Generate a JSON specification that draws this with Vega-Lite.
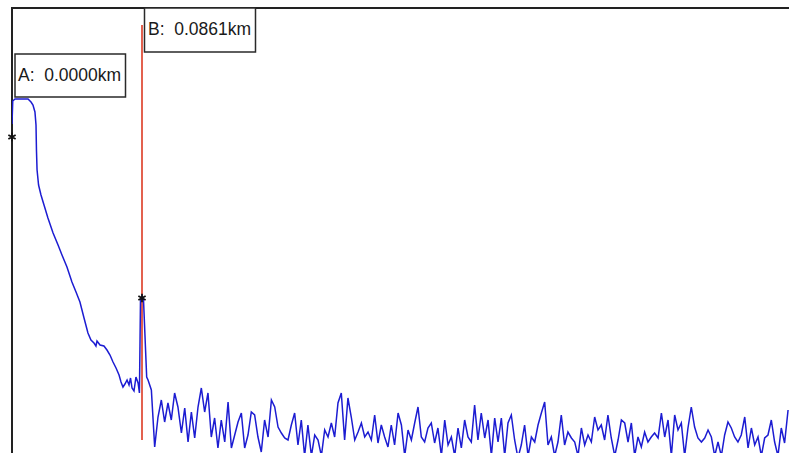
{
  "$schema": "https://vega.github.io/schema/vega-lite/v6.json",
  "autosize": {"type": "none"},
  "padding": {"left": 12, "top": 8, "right": 0, "bottom": 0},
  "width": 778,
  "height": 446,
  "background": "white",
  "config": {
    "view": {"stroke": "#222222", "strokeWidth": 2},
    "axis": {"disable": true}
  },
  "datasets": {
    "cursors": [
      {"cursor": "A", "km": 0, "db": 31.6, "label": "A: \u00a00.0000km"},
      {"cursor": "B", "km": 0.0861, "db": 15.5, "label": "B: \u00a00.0861km"}
    ],
    "trace": [
      {"km": 0, "db": 32.9}, {"km": 0.0005, "db": 35.2}, {"km": 0.002, "db": 35.4}, {"km": 0.0106, "db": 35.4},
      {"km": 0.0126, "db": 35.1}, {"km": 0.0139, "db": 34.8}, {"km": 0.0152, "db": 34.1}, {"km": 0.0159, "db": 32.8},
      {"km": 0.0162, "db": 30.3}, {"km": 0.0166, "db": 28.3}, {"km": 0.0176, "db": 26.8}, {"km": 0.0192, "db": 25.8},
      {"km": 0.0212, "db": 24.8}, {"km": 0.0238, "db": 23.5}, {"km": 0.0272, "db": 22.0}, {"km": 0.0305, "db": 20.8},
      {"km": 0.0331, "db": 19.8}, {"km": 0.0364, "db": 18.6}, {"km": 0.0397, "db": 17.1}, {"km": 0.0424, "db": 16.1},
      {"km": 0.045, "db": 15.1}, {"km": 0.0477, "db": 13.5}, {"km": 0.0503, "db": 12.0}, {"km": 0.0523, "db": 11.3},
      {"km": 0.0543, "db": 11.0}, {"km": 0.0556, "db": 10.7}, {"km": 0.0563, "db": 11.2}, {"km": 0.0583, "db": 10.8},
      {"km": 0.0609, "db": 10.7}, {"km": 0.0629, "db": 10.3}, {"km": 0.0649, "db": 9.8}, {"km": 0.0669, "db": 9.1},
      {"km": 0.0689, "db": 8.5}, {"km": 0.0709, "db": 7.8}, {"km": 0.0722, "db": 7.1}, {"km": 0.0735, "db": 6.6},
      {"km": 0.0748, "db": 6.9}, {"km": 0.0762, "db": 7.3}, {"km": 0.0775, "db": 6.8}, {"km": 0.0785, "db": 7.5},
      {"km": 0.0795, "db": 6.5}, {"km": 0.0808, "db": 6.2}, {"km": 0.0821, "db": 7.6}, {"km": 0.0835, "db": 7.0},
      {"km": 0.0844, "db": 6.0}, {"km": 0.0851, "db": 15.3}, {"km": 0.0861, "db": 15.7}, {"km": 0.0871, "db": 15.3},
      {"km": 0.0892, "db": 7.6},
      {"km": 0.0901, "db": 7.3}, {"km": 0.0923, "db": 6.3}, {"km": 0.0945, "db": 0.6}, {"km": 0.0967, "db": 3.6},
      {"km": 0.0989, "db": 5.3}, {"km": 0.1011, "db": 3.1}, {"km": 0.1033, "db": 5.0}, {"km": 0.1055, "db": 3.3},
      {"km": 0.1077, "db": 6.0}, {"km": 0.1099, "db": 4.6}, {"km": 0.1122, "db": 2.0}, {"km": 0.1144, "db": 4.5},
      {"km": 0.1166, "db": 1.1}, {"km": 0.1188, "db": 4.1}, {"km": 0.121, "db": 1.5}, {"km": 0.1232, "db": 4.6},
      {"km": 0.1254, "db": 6.5}, {"km": 0.1276, "db": 4.1}, {"km": 0.1298, "db": 6.0}, {"km": 0.132, "db": 1.6},
      {"km": 0.1342, "db": 3.5}, {"km": 0.1364, "db": 0.5}, {"km": 0.1386, "db": 3.3}, {"km": 0.1409, "db": 1.1},
      {"km": 0.1431, "db": 5.1}, {"km": 0.1453, "db": 0.5}, {"km": 0.1475, "db": 1.8}, {"km": 0.1497, "db": 3.1},
      {"km": 0.1519, "db": 4.0}, {"km": 0.1541, "db": 0.5}, {"km": 0.1563, "db": 1.8}, {"km": 0.1585, "db": 4.1},
      {"km": 0.1607, "db": 3.8}, {"km": 0.1629, "db": 1.6}, {"km": 0.1651, "db": 0.1}, {"km": 0.1673, "db": 3.3},
      {"km": 0.1696, "db": 1.6}, {"km": 0.1718, "db": 5.3}, {"km": 0.174, "db": 4.6}, {"km": 0.1762, "db": 2.6},
      {"km": 0.1784, "db": 2.0}, {"km": 0.1806, "db": 1.5}, {"km": 0.1828, "db": 1.3}, {"km": 0.185, "db": 2.8},
      {"km": 0.1872, "db": 4.0}, {"km": 0.1894, "db": 0.8}, {"km": 0.1916, "db": 3.3}, {"km": 0.1938, "db": -0.3},
      {"km": 0.196, "db": 2.8}, {"km": 0.1983, "db": -0.3}, {"km": 0.2005, "db": 1.8}, {"km": 0.2027, "db": 1.3},
      {"km": 0.2049, "db": -0.3}, {"km": 0.2071, "db": 2.3}, {"km": 0.2093, "db": 1.6}, {"km": 0.2115, "db": 3.0},
      {"km": 0.2137, "db": 1.6}, {"km": 0.2159, "db": 5.0}, {"km": 0.2181, "db": 6.0}, {"km": 0.2203, "db": 1.3},
      {"km": 0.2225, "db": 5.5}, {"km": 0.2247, "db": 3.6}, {"km": 0.227, "db": 1.3}, {"km": 0.2292, "db": 2.1},
      {"km": 0.2314, "db": 3.0}, {"km": 0.2336, "db": 1.6}, {"km": 0.2358, "db": 2.1}, {"km": 0.238, "db": 1.3},
      {"km": 0.2402, "db": 3.8}, {"km": 0.2424, "db": 1.0}, {"km": 0.2446, "db": 2.8}, {"km": 0.2468, "db": 1.6},
      {"km": 0.249, "db": 0.6}, {"km": 0.2512, "db": 2.8}, {"km": 0.2534, "db": 0.8}, {"km": 0.2557, "db": 4.0},
      {"km": 0.2579, "db": 2.8}, {"km": 0.2601, "db": -0.3}, {"km": 0.2623, "db": 2.3}, {"km": 0.2645, "db": 1.3},
      {"km": 0.2667, "db": 3.0}, {"km": 0.2689, "db": 4.6}, {"km": 0.2711, "db": 1.6}, {"km": 0.2733, "db": 1.1},
      {"km": 0.2755, "db": 2.5}, {"km": 0.2777, "db": 3.0}, {"km": 0.2799, "db": 1.0}, {"km": 0.2821, "db": 2.5},
      {"km": 0.2844, "db": -0.3}, {"km": 0.2866, "db": 3.3}, {"km": 0.2888, "db": 0.8}, {"km": 0.291, "db": 1.6},
      {"km": 0.2932, "db": -0.3}, {"km": 0.2954, "db": 2.5}, {"km": 0.2976, "db": 0.5}, {"km": 0.2998, "db": 3.3},
      {"km": 0.302, "db": 1.6}, {"km": 0.3042, "db": 1.1}, {"km": 0.3064, "db": 4.8}, {"km": 0.3086, "db": 1.3},
      {"km": 0.3108, "db": 4.0}, {"km": 0.3131, "db": 1.5}, {"km": 0.3153, "db": 3.3}, {"km": 0.3175, "db": -0.3},
      {"km": 0.3197, "db": 3.5}, {"km": 0.3219, "db": 1.1}, {"km": 0.3241, "db": 3.5}, {"km": 0.3263, "db": -0.3},
      {"km": 0.3285, "db": 3.0}, {"km": 0.3307, "db": 3.8}, {"km": 0.3329, "db": 1.3}, {"km": 0.3351, "db": -0.5},
      {"km": 0.3373, "db": 0.8}, {"km": 0.3395, "db": 2.8}, {"km": 0.3418, "db": -0.3}, {"km": 0.344, "db": 1.6},
      {"km": 0.3462, "db": 1.1}, {"km": 0.3484, "db": 2.8}, {"km": 0.3506, "db": 4.0}, {"km": 0.3528, "db": 5.1},
      {"km": 0.355, "db": 0.8}, {"km": 0.3572, "db": 1.6}, {"km": 0.3594, "db": -0.3}, {"km": 0.3616, "db": 1.1},
      {"km": 0.3638, "db": 3.8}, {"km": 0.366, "db": 0.8}, {"km": 0.3682, "db": 2.1}, {"km": 0.3705, "db": 1.5},
      {"km": 0.3727, "db": 1.1}, {"km": 0.3749, "db": -0.3}, {"km": 0.3771, "db": 2.5}, {"km": 0.3793, "db": 0.8},
      {"km": 0.3815, "db": 1.8}, {"km": 0.3837, "db": 1.1}, {"km": 0.3859, "db": 3.6}, {"km": 0.3881, "db": 2.3},
      {"km": 0.3903, "db": 2.8}, {"km": 0.3925, "db": 1.3}, {"km": 0.3947, "db": 3.8}, {"km": 0.3969, "db": 1.5},
      {"km": 0.3992, "db": -0.3}, {"km": 0.4014, "db": 1.3}, {"km": 0.4036, "db": 3.3}, {"km": 0.4058, "db": 3.0},
      {"km": 0.408, "db": 1.1}, {"km": 0.4102, "db": 3.0}, {"km": 0.4124, "db": -0.3}, {"km": 0.4146, "db": 1.6},
      {"km": 0.4168, "db": 0.6}, {"km": 0.419, "db": 2.1}, {"km": 0.4212, "db": 1.1}, {"km": 0.4234, "db": 1.6},
      {"km": 0.4256, "db": 2.0}, {"km": 0.4279, "db": 1.5}, {"km": 0.4301, "db": 4.0}, {"km": 0.4323, "db": 1.6},
      {"km": 0.4345, "db": 3.3}, {"km": 0.4367, "db": -0.3}, {"km": 0.4389, "db": 3.8}, {"km": 0.4411, "db": 2.3},
      {"km": 0.4433, "db": 3.0}, {"km": 0.4455, "db": -0.3}, {"km": 0.4477, "db": 2.5}, {"km": 0.4499, "db": 4.6},
      {"km": 0.4521, "db": 2.6}, {"km": 0.4543, "db": 1.5}, {"km": 0.4566, "db": 1.1}, {"km": 0.4588, "db": 1.5},
      {"km": 0.461, "db": 2.3}, {"km": 0.4632, "db": 1.6}, {"km": 0.4654, "db": -0.3}, {"km": 0.4676, "db": 1.1},
      {"km": 0.4698, "db": -0.3}, {"km": 0.472, "db": 1.8}, {"km": 0.4742, "db": 3.1}, {"km": 0.4764, "db": 2.5},
      {"km": 0.4786, "db": 1.6}, {"km": 0.4808, "db": 1.1}, {"km": 0.483, "db": 1.8}, {"km": 0.4853, "db": 3.6},
      {"km": 0.4875, "db": 0.5}, {"km": 0.4897, "db": 2.5}, {"km": 0.4919, "db": 0.8}, {"km": 0.4941, "db": 1.6},
      {"km": 0.4963, "db": -0.3}, {"km": 0.4985, "db": 1.5}, {"km": 0.5007, "db": 1.8}, {"km": 0.5029, "db": 3.3},
      {"km": 0.5051, "db": 1.1}, {"km": 0.5073, "db": -0.3}, {"km": 0.5095, "db": 2.5}, {"km": 0.5117, "db": 1.0},
      {"km": 0.514, "db": 4.3}
    ]
  },
  "layer": [
    {
      "data": {"name": "cursors"},
      "transform": [{"filter": "datum.cursor === 'B'"}],
      "mark": {"type": "rule", "color": "#e0503c", "strokeWidth": 1.8},
      "encoding": {
        "x": {"field": "km", "type": "quantitative", "axis": null,
              "scale": {"domain": [0, 0.51528], "nice": false, "zero": false}},
        "y": {"datum": 42.8, "type": "quantitative", "axis": null,
              "scale": {"domain": [-0.1, 44.5], "nice": false, "zero": false}},
        "y2": {"datum": 1.3}
      }
    },
    {
      "data": {"name": "trace"},
      "mark": {"type": "line", "color": "#1c1cd2", "strokeWidth": 1.5, "clip": true},
      "encoding": {
        "x": {"field": "km", "type": "quantitative", "axis": null},
        "y": {"field": "db", "type": "quantitative", "axis": null}
      }
    },
    {
      "data": {"name": "cursors"},
      "mark": {
        "type": "point",
        "shape": "M0,-1L0,1M-0.87,-0.5L0.87,0.5M-0.87,0.5L0.87,-0.5",
        "filled": false,
        "stroke": "#111111",
        "strokeWidth": 1.7,
        "size": 70,
        "opacity": 1
      },
      "encoding": {
        "x": {"field": "km", "type": "quantitative", "axis": null},
        "y": {"field": "db", "type": "quantitative", "axis": null}
      }
    },
    {
      "data": {"name": "cursors"},
      "transform": [{"filter": "datum.cursor === 'A'"}],
      "layer": [
        {
          "mark": {"type": "rect", "fill": "white", "stroke": "#2a2a2a", "strokeWidth": 1.5,
                   "xOffset": 3, "x2Offset": 113.5},
          "encoding": {
            "x": {"field": "km", "type": "quantitative", "axis": null},
            "x2": {"field": "km"},
            "y": {"datum": 39.9, "type": "quantitative", "axis": null},
            "y2": {"datum": 35.6}
          }
        },
        {
          "mark": {"type": "text", "align": "left", "baseline": "middle", "dx": 6,
                   "font": "Liberation Sans", "fontSize": 17.5, "color": "#1a1a1a"},
          "encoding": {
            "x": {"field": "km", "type": "quantitative", "axis": null},
            "y": {"datum": 37.75, "type": "quantitative", "axis": null},
            "text": {"field": "label"}
          }
        }
      ]
    },
    {
      "data": {"name": "cursors"},
      "transform": [{"filter": "datum.cursor === 'B'"}],
      "layer": [
        {
          "mark": {"type": "rect", "fill": "white", "stroke": "#2a2a2a", "strokeWidth": 1.5,
                   "xOffset": 2.5, "x2Offset": 113.5},
          "encoding": {
            "x": {"field": "km", "type": "quantitative", "axis": null},
            "x2": {"field": "km"},
            "y": {"datum": 44.5, "type": "quantitative", "axis": null},
            "y2": {"datum": 40.1}
          }
        },
        {
          "mark": {"type": "text", "align": "left", "baseline": "middle", "dx": 6,
                   "font": "Liberation Sans", "fontSize": 17.5, "color": "#1a1a1a"},
          "encoding": {
            "x": {"field": "km", "type": "quantitative", "axis": null},
            "y": {"datum": 42.3, "type": "quantitative", "axis": null},
            "text": {"field": "label"}
          }
        }
      ]
    }
  ]
}
